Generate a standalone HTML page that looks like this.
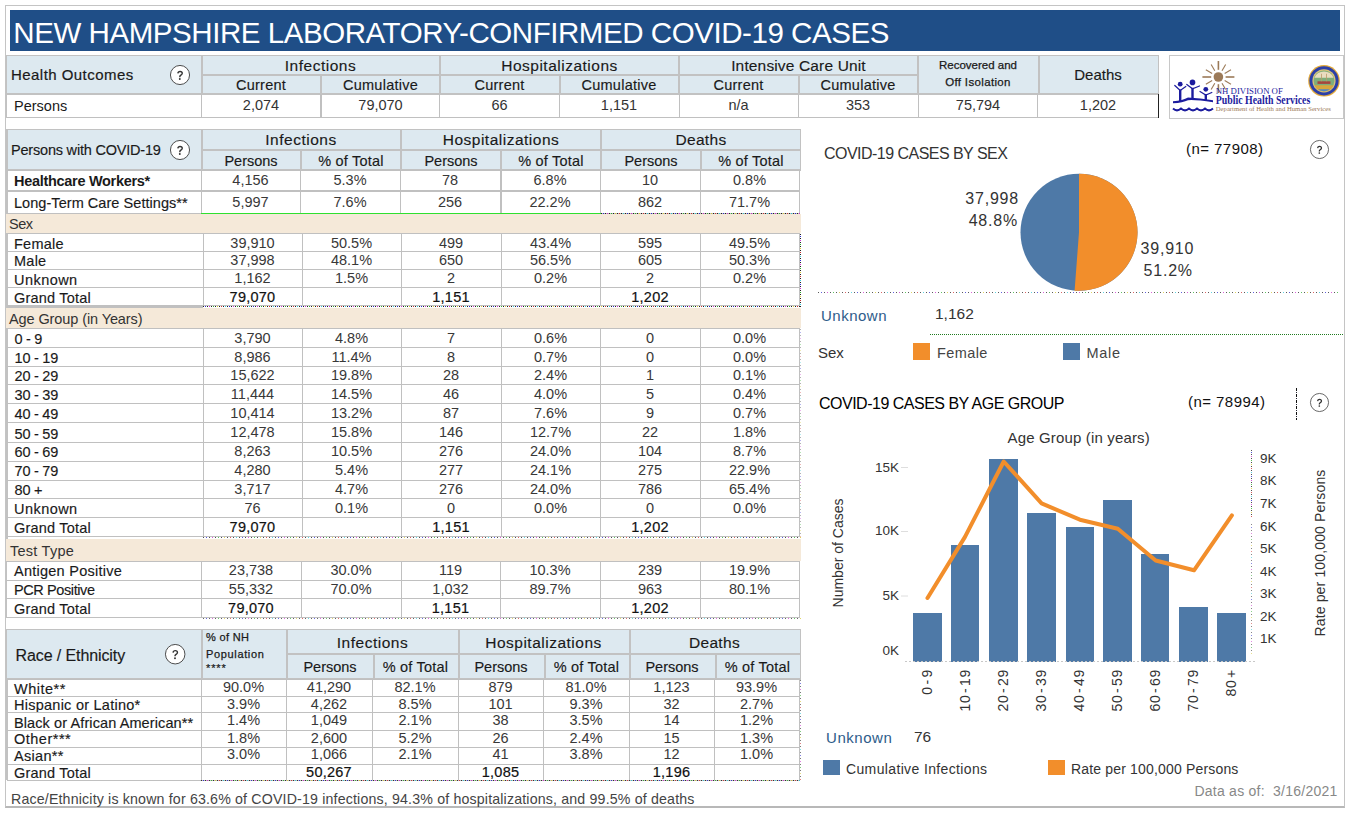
<!DOCTYPE html>
<html><head><meta charset="utf-8"><title>NH COVID-19</title>
<style>
html,body{margin:0;padding:0;background:#fff;}
body{width:1350px;height:813px;position:relative;overflow:hidden;font-family:"Liberation Sans",sans-serif;}
.a{position:absolute;}
.t{position:absolute;display:flex;align-items:center;white-space:nowrap;line-height:1;}
</style></head><body>
<div class="a" style="left:5px;top:5px;width:1340px;height:803px;border:1px solid #c4c4c4;border-bottom:2px solid #b8b8b8;box-sizing:border-box;"></div>
<div class="a" style="left:10px;top:10px;width:1330px;height:41px;background:#1f4e87;"></div>
<div class="t" style="left:13.3px;top:10px;width:1000px;height:41px;justify-content:flex-start;font-size:29.5px;letter-spacing:-0.44px;color:#fff;padding-top:4px;box-sizing:border-box" id="title">NEW HAMPSHIRE LABORATORY-CONFIRMED COVID-19 CASES</div>
<div class="a" style="left:7px;top:55px;width:1152px;height:39px;background:#dde9f0;"></div>
<div class="a" style="left:7px;top:55px;width:1152px;height:1px;background:#c2c2c2;"></div>
<div class="a" style="left:7px;top:93px;width:1152px;height:2px;background:#c2c2c2;"></div>
<div class="a" style="left:6px;top:55px;width:1px;height:63px;background:#c2c2c2;"></div>
<div class="a" style="left:202px;top:74px;width:716px;height:2px;background:#c2c2c2;"></div>
<div class="a" style="left:201px;top:55px;width:2px;height:39px;background:#c2c2c2;"></div>
<div class="a" style="left:320px;top:75px;width:2px;height:19px;background:#c2c2c2;"></div>
<div class="a" style="left:439px;top:55px;width:2px;height:39px;background:#c2c2c2;"></div>
<div class="a" style="left:559px;top:75px;width:2px;height:19px;background:#c2c2c2;"></div>
<div class="a" style="left:678px;top:55px;width:2px;height:39px;background:#c2c2c2;"></div>
<div class="a" style="left:798px;top:75px;width:2px;height:19px;background:#c2c2c2;"></div>
<div class="a" style="left:917px;top:55px;width:2px;height:39px;background:#c2c2c2;"></div>
<div class="a" style="left:1038px;top:55px;width:2px;height:39px;background:#c2c2c2;"></div>
<div class="a" style="left:1158px;top:55px;width:1px;height:39px;background:#c2c2c2;"></div>
<div class="t" style="left:201px;top:56px;width:239px;height:19px;justify-content:center;font-size:15.5px;color:#1a1a1a;letter-spacing:0.5px;-webkit-text-stroke:0.15px #1a1a1a;">Infections</div>
<div class="t" style="left:201px;top:76px;width:120px;height:18px;justify-content:center;font-size:14.5px;color:#1a1a1a;letter-spacing:0.25px;-webkit-text-stroke:0.15px #1a1a1a;">Current</div>
<div class="t" style="left:321px;top:76px;width:119px;height:18px;justify-content:center;font-size:14.5px;color:#1a1a1a;letter-spacing:0.25px;-webkit-text-stroke:0.15px #1a1a1a;">Cumulative</div>
<div class="t" style="left:440px;top:56px;width:239px;height:19px;justify-content:center;font-size:15.5px;color:#1a1a1a;letter-spacing:0.5px;-webkit-text-stroke:0.15px #1a1a1a;">Hospitalizations</div>
<div class="t" style="left:440px;top:76px;width:119px;height:18px;justify-content:center;font-size:14.5px;color:#1a1a1a;letter-spacing:0.25px;-webkit-text-stroke:0.15px #1a1a1a;">Current</div>
<div class="t" style="left:559px;top:76px;width:120px;height:18px;justify-content:center;font-size:14.5px;color:#1a1a1a;letter-spacing:0.25px;-webkit-text-stroke:0.15px #1a1a1a;">Cumulative</div>
<div class="t" style="left:679px;top:56px;width:239px;height:19px;justify-content:center;font-size:15.5px;color:#1a1a1a;letter-spacing:0.15px;-webkit-text-stroke:0.15px #1a1a1a;">Intensive Care Unit</div>
<div class="t" style="left:679px;top:76px;width:119px;height:18px;justify-content:center;font-size:14.5px;color:#1a1a1a;letter-spacing:0.25px;-webkit-text-stroke:0.15px #1a1a1a;">Current</div>
<div class="t" style="left:798px;top:76px;width:120px;height:18px;justify-content:center;font-size:14.5px;color:#1a1a1a;letter-spacing:0.25px;-webkit-text-stroke:0.15px #1a1a1a;">Cumulative</div>
<div class="t" style="left:918px;top:56px;width:120px;height:19px;justify-content:center;font-size:11.5px;color:#1a1a1a;-webkit-text-stroke:0.25px #1a1a1a;">Recovered and</div>
<div class="t" style="left:918px;top:73px;width:120px;height:19px;justify-content:center;font-size:11.5px;color:#1a1a1a;letter-spacing:0.35px;-webkit-text-stroke:0.25px #1a1a1a;">Off Isolation</div>
<div class="t" style="left:1038px;top:55px;width:120px;height:38px;justify-content:center;font-size:15px;color:#1a1a1a;-webkit-text-stroke:0.15px #1a1a1a;">Deaths</div>
<div class="t" style="left:11px;top:55px;width:150px;height:38px;justify-content:flex-start;font-size:15px;color:#1a1a1a;letter-spacing:0.45px;-webkit-text-stroke:0.2px #1a1a1a;">Health Outcomes</div>
<svg class="a" style="left:167.9px;top:62.900000000000006px" width="24" height="24" viewBox="-12 -12 24 24"><circle cx="0" cy="0" r="9.55" fill="#fff" stroke="#444" stroke-width="0.95"/><g transform="scale(1.0)"><path transform="scale(0.94)" d="M-2.3,-1.7 C-2.1,-3.4 -0.7,-3.8 0.1,-3.8 C1.7,-3.8 2.4,-2.7 2.4,-1.8 C2.4,-0.4 1.1,0 0.3,0.7 C-0.2,1.1 -0.2,1.6 -0.2,2.3" fill="none" stroke="#333" stroke-width="1.5"/><circle cx="-0.2" cy="4" r="0.95" fill="#333"/></g></svg>
<div class="a" style="left:7px;top:117px;width:1152px;height:1px;background:#c0c0c0;"></div>
<div class="a" style="left:201px;top:94px;width:1px;height:24px;background:#c0c0c0;"></div>
<div class="a" style="left:320px;top:94px;width:1px;height:24px;background:#c0c0c0;"></div>
<div class="a" style="left:321px;top:94px;width:1px;height:24px;background:#c0c0c0;"></div>
<div class="a" style="left:439px;top:94px;width:1px;height:24px;background:#c0c0c0;"></div>
<div class="a" style="left:559px;top:94px;width:1px;height:24px;background:#c0c0c0;"></div>
<div class="a" style="left:679px;top:94px;width:1px;height:24px;background:#c0c0c0;"></div>
<div class="a" style="left:798px;top:94px;width:1px;height:24px;background:#c0c0c0;"></div>
<div class="a" style="left:918px;top:94px;width:1px;height:24px;background:#c0c0c0;"></div>
<div class="a" style="left:1037px;top:94px;width:1px;height:24px;background:#c0c0c0;"></div>
<div class="a" style="left:1158px;top:94px;width:1px;height:24px;background:#222;"></div>
<div class="t" style="left:14px;top:95px;width:150px;height:22px;justify-content:flex-start;font-size:14.5px;color:#1a1a1a;">Persons</div>
<div class="t" style="left:201px;top:94px;width:120px;height:22px;justify-content:center;font-size:14.5px;color:#333;">2,074</div>
<div class="t" style="left:321px;top:94px;width:119px;height:22px;justify-content:center;font-size:14.5px;color:#333;">79,070</div>
<div class="t" style="left:440px;top:94px;width:119px;height:22px;justify-content:center;font-size:14.5px;color:#333;">66</div>
<div class="t" style="left:559px;top:94px;width:120px;height:22px;justify-content:center;font-size:14.5px;color:#333;">1,151</div>
<div class="t" style="left:679px;top:94px;width:119px;height:22px;justify-content:center;font-size:14.5px;color:#333;">n/a</div>
<div class="t" style="left:798px;top:94px;width:120px;height:22px;justify-content:center;font-size:14.5px;color:#333;">353</div>
<div class="t" style="left:918px;top:94px;width:120px;height:22px;justify-content:center;font-size:14.5px;color:#333;">75,794</div>
<div class="t" style="left:1038px;top:94px;width:120px;height:22px;justify-content:center;font-size:14.5px;color:#333;">1,202</div>
<div class="a" style="left:1169px;top:55px;width:175px;height:64px;background:#fff;border:1px solid #c8c8c8;box-sizing:border-box;"></div>
<svg class="a" style="left:0;top:0" width="1350" height="813"><circle cx="1218.4" cy="77" r="4.8" fill="#9c7a58"/><line x1="1225.60" y1="77.00" x2="1234.40" y2="77.00" stroke="#9c7a58" stroke-width="1.6"/><line x1="1224.64" y1="80.60" x2="1230.96" y2="84.25" stroke="#9c7a58" stroke-width="1.1"/><line x1="1222.00" y1="83.24" x2="1225.65" y2="89.56" stroke="#9c7a58" stroke-width="1.1"/><line x1="1218.40" y1="84.20" x2="1218.40" y2="93.00" stroke="#9c7a58" stroke-width="1.6"/><line x1="1214.80" y1="83.24" x2="1211.15" y2="89.56" stroke="#9c7a58" stroke-width="1.1"/><line x1="1212.16" y1="80.60" x2="1205.84" y2="84.25" stroke="#9c7a58" stroke-width="1.1"/><line x1="1211.20" y1="77.00" x2="1202.40" y2="77.00" stroke="#9c7a58" stroke-width="1.6"/><line x1="1212.16" y1="73.40" x2="1205.84" y2="69.75" stroke="#9c7a58" stroke-width="1.1"/><line x1="1214.80" y1="70.76" x2="1211.15" y2="64.44" stroke="#9c7a58" stroke-width="1.1"/><line x1="1218.40" y1="69.80" x2="1218.40" y2="61.00" stroke="#9c7a58" stroke-width="1.6"/><line x1="1222.00" y1="70.76" x2="1225.65" y2="64.44" stroke="#9c7a58" stroke-width="1.1"/><line x1="1224.64" y1="73.40" x2="1230.96" y2="69.75" stroke="#9c7a58" stroke-width="1.1"/><circle cx="1180.2" cy="84.2" r="2.4" fill="#1c1c9e"/><path d="M1174.8,85.5 L1180.2,90.5 L1185.8,86.5" fill="none" stroke="#1c1c9e" stroke-width="1.25" stroke-linecap="round"/><path d="M1180.2,89.5 L1180.2,101" stroke="#1c1c9e" stroke-width="2.4" fill="none"/><circle cx="1192.5" cy="82.4" r="2.8" fill="#1c1c9e"/><path d="M1186.8,84.5 L1192.5,88.8 L1199.5,86" fill="none" stroke="#1c1c9e" stroke-width="1.25" stroke-linecap="round"/><path d="M1192.5,87.8 L1192.5,98.5" stroke="#1c1c9e" stroke-width="2.4" fill="none"/><circle cx="1205.8" cy="89.3" r="2.4" fill="#1c1c9e"/><path d="M1200,91.5 L1205.8,95 L1211.8,92.5" fill="none" stroke="#1c1c9e" stroke-width="1.25" stroke-linecap="round"/><path d="M1205.8,94 L1205.8,100.5" stroke="#1c1c9e" stroke-width="2.4" fill="none"/><path d="M1173,103.3 L1173,101.3 Q1183,100.6 1188,97.6 Q1200,98 1213,100.3 L1213,102.3 Q1196,99.6 1188,100.2 Q1183,102.6 1173,103.3 Z" fill="#1c1c9e"/><path d="M1173,108.6 Q1177,112.2 1181,108.6 Q1185,112.2 1189,108.6 Q1193,112.2 1197,108.6 Q1201,112.2 1205,108.6 Q1209,112.2 1213,108.6" fill="none" stroke="#1c1c9e" stroke-width="2"/><text x="1215.8" y="94" font-family="Liberation Serif, serif" font-size="7.6" fill="#1c1c9e" textLength="67" lengthAdjust="spacingAndGlyphs">NH DIVISION OF</text><text x="1215.8" y="103.6" font-family="Liberation Serif, serif" font-size="11.5" font-weight="bold" fill="#1c1c9e" textLength="94.5" lengthAdjust="spacingAndGlyphs">Public Health Services</text><text x="1215.8" y="110.8" font-family="Liberation Serif, serif" font-size="5.8" fill="#9c7a58" textLength="115" lengthAdjust="spacingAndGlyphs">Department of Health and Human Services</text><circle cx="1324" cy="80.8" r="15.8" fill="#e2a93a"/><circle cx="1324" cy="80.8" r="14.6" fill="#2b3fa8"/><circle cx="1324" cy="80.8" r="11.6" fill="#d9c27a"/><circle cx="1324" cy="80.8" r="10.4" fill="#7fae7a"/><path d="M1314.4,77.8 A10.4,10.4 0 0 1 1333.6,77.8 Z" fill="#e9dcc0"/><rect x="1317.5" y="81.3" width="13" height="2.6" fill="#a8453c"/><path d="M1314.5,85.3 A10.4,10.4 0 0 0 1333.5,85.3 Z" fill="#d8a63c"/><path d="M1318,89.2 A10.4,10.4 0 0 0 1330,89.2 Z" fill="#4f86c6"/><line x1="1321.5" y1="73.8" x2="1321.5" y2="81.3" stroke="#b89a6a" stroke-width="0.8"/><line x1="1326.5" y1="73.8" x2="1326.5" y2="81.3" stroke="#b89a6a" stroke-width="0.8"/></svg>
<div class="a" style="left:7px;top:129px;width:794px;height:41px;background:#dde9f0;"></div>
<div class="a" style="left:6px;top:129px;width:795px;height:1px;background:#c2c2c2;"></div>
<div class="a" style="left:7px;top:169px;width:794px;height:2px;background:#c2c2c2;"></div>
<div class="a" style="left:202px;top:149px;width:599px;height:2px;background:#c2c2c2;"></div>
<div class="a" style="left:6px;top:129px;width:2px;height:432px;background:#c2c2c2;"></div>
<div class="a" style="left:6px;top:561px;width:1px;height:57px;background:#c2c2c2;"></div>
<div class="a" style="left:6px;top:629px;width:2px;height:151px;background:#c2c2c2;"></div>
<div class="a" style="left:201px;top:129px;width:2px;height:41px;background:#c2c2c2;"></div>
<div class="a" style="left:300px;top:150px;width:2px;height:20px;background:#c2c2c2;"></div>
<div class="a" style="left:400px;top:129px;width:2px;height:41px;background:#c2c2c2;"></div>
<div class="a" style="left:500px;top:150px;width:2px;height:20px;background:#c2c2c2;"></div>
<div class="a" style="left:600px;top:129px;width:2px;height:41px;background:#c2c2c2;"></div>
<div class="a" style="left:700px;top:150px;width:2px;height:20px;background:#c2c2c2;"></div>
<div class="a" style="left:800px;top:129px;width:1px;height:41px;background:#c2c2c2;"></div>
<div class="t" style="left:201px;top:130px;width:200px;height:20px;justify-content:center;font-size:15.5px;color:#1a1a1a;letter-spacing:0.5px;-webkit-text-stroke:0.15px #1a1a1a;">Infections</div>
<div class="t" style="left:201px;top:152px;width:100px;height:19px;justify-content:center;font-size:14.5px;color:#1a1a1a;-webkit-text-stroke:0.15px #1a1a1a;">Persons</div>
<div class="t" style="left:301px;top:152px;width:100px;height:19px;justify-content:center;font-size:14.5px;color:#1a1a1a;letter-spacing:0.2px;-webkit-text-stroke:0.15px #1a1a1a;">% of Total</div>
<div class="t" style="left:401px;top:130px;width:200px;height:20px;justify-content:center;font-size:15.5px;color:#1a1a1a;letter-spacing:0.5px;-webkit-text-stroke:0.15px #1a1a1a;">Hospitalizations</div>
<div class="t" style="left:401px;top:152px;width:100px;height:19px;justify-content:center;font-size:14.5px;color:#1a1a1a;-webkit-text-stroke:0.15px #1a1a1a;">Persons</div>
<div class="t" style="left:501px;top:152px;width:100px;height:19px;justify-content:center;font-size:14.5px;color:#1a1a1a;letter-spacing:0.2px;-webkit-text-stroke:0.15px #1a1a1a;">% of Total</div>
<div class="t" style="left:601px;top:130px;width:200px;height:20px;justify-content:center;font-size:15.5px;color:#1a1a1a;letter-spacing:0.3px;-webkit-text-stroke:0.15px #1a1a1a;">Deaths</div>
<div class="t" style="left:601px;top:152px;width:100px;height:19px;justify-content:center;font-size:14.5px;color:#1a1a1a;-webkit-text-stroke:0.15px #1a1a1a;">Persons</div>
<div class="t" style="left:701px;top:152px;width:100px;height:19px;justify-content:center;font-size:14.5px;color:#1a1a1a;letter-spacing:0.2px;-webkit-text-stroke:0.15px #1a1a1a;">% of Total</div>
<div class="t" style="left:11px;top:130px;width:180px;height:40px;justify-content:flex-start;font-size:14.5px;color:#1a1a1a;letter-spacing:-0.2px;-webkit-text-stroke:0.15px #1a1a1a;">Persons with COVID-19</div>
<svg class="a" style="left:168px;top:138px" width="24" height="24" viewBox="-12 -12 24 24"><circle cx="0" cy="0" r="9.55" fill="#fff" stroke="#444" stroke-width="0.95"/><g transform="scale(1.0)"><path transform="scale(0.94)" d="M-2.3,-1.7 C-2.1,-3.4 -0.7,-3.8 0.1,-3.8 C1.7,-3.8 2.4,-2.7 2.4,-1.8 C2.4,-0.4 1.1,0 0.3,0.7 C-0.2,1.1 -0.2,1.6 -0.2,2.3" fill="none" stroke="#333" stroke-width="1.5"/><circle cx="-0.2" cy="4" r="0.95" fill="#333"/></g></svg>
<div class="t" style="left:14px;top:171px;width:187px;height:20px;justify-content:flex-start;font-size:14.5px;color:#1a1a1a;font-weight:bold;letter-spacing:-0.3px;">Healthcare Workers*</div>
<div class="t" style="left:201px;top:170px;width:99px;height:20px;justify-content:center;font-size:14.5px;color:#383838;">4,156</div>
<div class="t" style="left:300px;top:170px;width:100px;height:20px;justify-content:center;font-size:14.5px;color:#383838;">5.3%</div>
<div class="t" style="left:400px;top:170px;width:100px;height:20px;justify-content:center;font-size:14.5px;color:#383838;">78</div>
<div class="t" style="left:500px;top:170px;width:100px;height:20px;justify-content:center;font-size:14.5px;color:#383838;">6.8%</div>
<div class="t" style="left:600px;top:170px;width:100px;height:20px;justify-content:center;font-size:14.5px;color:#383838;">10</div>
<div class="t" style="left:700px;top:170px;width:99px;height:20px;justify-content:center;font-size:14.5px;color:#383838;">0.8%</div>
<div class="a" style="left:7px;top:170px;width:792px;height:1px;background:#c0c0c0;"></div>
<div class="a" style="left:7px;top:190px;width:792px;height:1px;background:#c0c0c0;"></div>
<div class="a" style="left:201px;top:170px;width:1px;height:21px;background:#c0c0c0;"></div>
<div class="a" style="left:300px;top:170px;width:1px;height:21px;background:#c0c0c0;"></div>
<div class="a" style="left:400px;top:170px;width:1px;height:21px;background:#c0c0c0;"></div>
<div class="a" style="left:500px;top:170px;width:1px;height:21px;background:#c0c0c0;"></div>
<div class="a" style="left:600px;top:170px;width:1px;height:21px;background:#c0c0c0;"></div>
<div class="a" style="left:700px;top:170px;width:1px;height:21px;background:#c0c0c0;"></div>
<div class="a" style="left:799px;top:170px;width:1px;height:21px;background:#c0c0c0;"></div>
<div class="a" style="left:7px;top:191px;width:793px;height:1px;background:#c0c0c0;"></div>
<div class="a" style="left:501px;top:170px;width:1px;height:43px;background:#c0c0c0;"></div>
<div class="t" style="left:14px;top:192px;width:187px;height:22px;justify-content:flex-start;font-size:14.5px;color:#1a1a1a;letter-spacing:0.05px;-webkit-text-stroke:0.15px #1a1a1a;">Long-Term Care Settings**</div>
<div class="t" style="left:201px;top:191px;width:99px;height:22px;justify-content:center;font-size:14.5px;color:#383838;">5,997</div>
<div class="t" style="left:300px;top:191px;width:100px;height:22px;justify-content:center;font-size:14.5px;color:#383838;">7.6%</div>
<div class="t" style="left:400px;top:191px;width:100px;height:22px;justify-content:center;font-size:14.5px;color:#383838;">256</div>
<div class="t" style="left:500px;top:191px;width:100px;height:22px;justify-content:center;font-size:14.5px;color:#383838;">22.2%</div>
<div class="t" style="left:600px;top:191px;width:100px;height:22px;justify-content:center;font-size:14.5px;color:#383838;">862</div>
<div class="t" style="left:700px;top:191px;width:99px;height:22px;justify-content:center;font-size:14.5px;color:#383838;">71.7%</div>
<div class="a" style="left:7px;top:191px;width:792px;height:1px;background:#c0c0c0;"></div>
<div class="a" style="left:7px;top:213px;width:792px;height:1px;background:#c0c0c0;"></div>
<div class="a" style="left:201px;top:191px;width:1px;height:23px;background:#c0c0c0;"></div>
<div class="a" style="left:300px;top:191px;width:1px;height:23px;background:#c0c0c0;"></div>
<div class="a" style="left:400px;top:191px;width:1px;height:23px;background:#c0c0c0;"></div>
<div class="a" style="left:500px;top:191px;width:1px;height:23px;background:#c0c0c0;"></div>
<div class="a" style="left:600px;top:191px;width:1px;height:23px;background:#c0c0c0;"></div>
<div class="a" style="left:700px;top:191px;width:1px;height:23px;background:#c0c0c0;"></div>
<div class="a" style="left:799px;top:191px;width:1px;height:23px;background:#c0c0c0;"></div>
<div class="a" style="left:7px;top:190px;width:793px;height:2px;background:#c0c0c0;"></div>
<div class="a" style="left:201px;top:213px;width:400px;height:1px;background:#2fe02f;"></div>
<div class="a" style="left:6px;top:214px;width:795px;height:19px;background:#f5e9d9;"></div>
<div class="t" style="left:9px;top:214px;width:200px;height:20px;justify-content:flex-start;font-size:14.5px;color:#333;letter-spacing:-0.5px;">Sex</div>
<div class="t" style="left:14px;top:235px;width:189px;height:18px;justify-content:flex-start;font-size:14.5px;color:#1a1a1a;letter-spacing:0.25px;-webkit-text-stroke:0.15px #1a1a1a;">Female</div>
<div class="t" style="left:203px;top:234px;width:99px;height:18px;justify-content:center;font-size:14.5px;color:#383838;">39,910</div>
<div class="t" style="left:302px;top:234px;width:99px;height:18px;justify-content:center;font-size:14.5px;color:#383838;">50.5%</div>
<div class="t" style="left:401px;top:234px;width:100px;height:18px;justify-content:center;font-size:14.5px;color:#383838;">499</div>
<div class="t" style="left:501px;top:234px;width:99px;height:18px;justify-content:center;font-size:14.5px;color:#383838;">43.4%</div>
<div class="t" style="left:600px;top:234px;width:100px;height:18px;justify-content:center;font-size:14.5px;color:#383838;">595</div>
<div class="t" style="left:700px;top:234px;width:99px;height:18px;justify-content:center;font-size:14.5px;color:#383838;">49.5%</div>
<div class="t" style="left:14px;top:252px;width:189px;height:18px;justify-content:flex-start;font-size:14.5px;color:#1a1a1a;letter-spacing:0.25px;-webkit-text-stroke:0.15px #1a1a1a;">Male</div>
<div class="t" style="left:203px;top:251px;width:99px;height:18px;justify-content:center;font-size:14.5px;color:#383838;">37,998</div>
<div class="t" style="left:302px;top:251px;width:99px;height:18px;justify-content:center;font-size:14.5px;color:#383838;">48.1%</div>
<div class="t" style="left:401px;top:251px;width:100px;height:18px;justify-content:center;font-size:14.5px;color:#383838;">650</div>
<div class="t" style="left:501px;top:251px;width:99px;height:18px;justify-content:center;font-size:14.5px;color:#383838;">56.5%</div>
<div class="t" style="left:600px;top:251px;width:100px;height:18px;justify-content:center;font-size:14.5px;color:#383838;">605</div>
<div class="t" style="left:700px;top:251px;width:99px;height:18px;justify-content:center;font-size:14.5px;color:#383838;">50.3%</div>
<div class="t" style="left:14px;top:271px;width:189px;height:18px;justify-content:flex-start;font-size:14.5px;color:#1a1a1a;letter-spacing:0.45px;-webkit-text-stroke:0.15px #1a1a1a;">Unknown</div>
<div class="t" style="left:203px;top:269px;width:99px;height:18px;justify-content:center;font-size:14.5px;color:#383838;">1,162</div>
<div class="t" style="left:302px;top:269px;width:99px;height:18px;justify-content:center;font-size:14.5px;color:#383838;">1.5%</div>
<div class="t" style="left:401px;top:269px;width:100px;height:18px;justify-content:center;font-size:14.5px;color:#383838;">2</div>
<div class="t" style="left:501px;top:269px;width:99px;height:18px;justify-content:center;font-size:14.5px;color:#383838;">0.2%</div>
<div class="t" style="left:600px;top:269px;width:100px;height:18px;justify-content:center;font-size:14.5px;color:#383838;">2</div>
<div class="t" style="left:700px;top:269px;width:99px;height:18px;justify-content:center;font-size:14.5px;color:#383838;">0.2%</div>
<div class="t" style="left:14px;top:289px;width:189px;height:18px;justify-content:flex-start;font-size:14.5px;color:#1a1a1a;letter-spacing:0.2px;-webkit-text-stroke:0.15px #1a1a1a;">Grand Total</div>
<div class="t" style="left:203px;top:288px;width:99px;height:18px;justify-content:center;font-size:14.5px;color:#111;letter-spacing:0.25px;-webkit-text-stroke:0.2px #111;">79,070</div>
<div class="t" style="left:401px;top:288px;width:100px;height:18px;justify-content:center;font-size:14.5px;color:#111;letter-spacing:0.25px;-webkit-text-stroke:0.2px #111;">1,151</div>
<div class="t" style="left:600px;top:288px;width:100px;height:18px;justify-content:center;font-size:14.5px;color:#111;letter-spacing:0.25px;-webkit-text-stroke:0.2px #111;">1,202</div>
<div class="a" style="left:7px;top:233px;width:792px;height:1px;background:#c0c0c0;"></div>
<div class="a" style="left:7px;top:251px;width:792px;height:1px;background:#c0c0c0;"></div>
<div class="a" style="left:7px;top:269px;width:792px;height:1px;background:#c0c0c0;"></div>
<div class="a" style="left:7px;top:287px;width:792px;height:1px;background:#c0c0c0;"></div>
<div class="a" style="left:7px;top:305px;width:792px;height:1px;background:#c0c0c0;"></div>
<div class="a" style="left:203px;top:233px;width:1px;height:73px;background:#c0c0c0;"></div>
<div class="a" style="left:302px;top:233px;width:1px;height:73px;background:#c0c0c0;"></div>
<div class="a" style="left:401px;top:233px;width:1px;height:73px;background:#c0c0c0;"></div>
<div class="a" style="left:501px;top:233px;width:1px;height:73px;background:#c0c0c0;"></div>
<div class="a" style="left:600px;top:233px;width:1px;height:73px;background:#c0c0c0;"></div>
<div class="a" style="left:700px;top:233px;width:1px;height:73px;background:#c0c0c0;"></div>
<div class="a" style="left:799px;top:233px;width:1px;height:73px;background:#c0c0c0;"></div>
<div class="a" style="left:7px;top:306px;width:196px;height:2px;background:#c0c0c0;"></div>
<div class="a" style="left:601px;top:213px;width:200px;height:1px;background:repeating-linear-gradient(90deg,#222 0px 1px,transparent 1px 2px,#2b2bd6 2px 3px,transparent 3px 4px,#222 4px 5px,transparent 5px 6px,#d02bd0 6px 7px,transparent 7px 8px,#222 8px 9px,transparent 9px 10px,#2bb02b 10px 11px,transparent 11px 12px,#222 12px 13px,transparent 13px 14px,#d6c62b 14px 15px,transparent 15px 16px,#222 16px 17px,transparent 17px 18px,#d03030 18px 19px,transparent 19px 20px,#222 20px 21px,transparent 21px 22px,#2bc6d6 22px 23px,transparent 23px 24px);opacity:1.0"></div>
<div class="a" style="left:203px;top:306px;width:598px;height:1px;background:repeating-linear-gradient(90deg,#222 0px 1px,transparent 1px 2px,#2b2bd6 2px 3px,transparent 3px 4px,#222 4px 5px,transparent 5px 6px,#d02bd0 6px 7px,transparent 7px 8px,#222 8px 9px,transparent 9px 10px,#2bb02b 10px 11px,transparent 11px 12px,#222 12px 13px,transparent 13px 14px,#d6c62b 14px 15px,transparent 15px 16px,#222 16px 17px,transparent 17px 18px,#d03030 18px 19px,transparent 19px 20px,#222 20px 21px,transparent 21px 22px,#2bc6d6 22px 23px,transparent 23px 24px);opacity:1.0"></div>
<div class="a" style="left:800px;top:234px;width:1px;height:73px;background:repeating-linear-gradient(180deg,#222 0px 1px,transparent 1px 2px,#2b2bd6 2px 3px,transparent 3px 4px,#222 4px 5px,transparent 5px 6px,#d02bd0 6px 7px,transparent 7px 8px,#222 8px 9px,transparent 9px 10px,#2bb02b 10px 11px,transparent 11px 12px,#222 12px 13px,transparent 13px 14px,#d6c62b 14px 15px,transparent 15px 16px,#222 16px 17px,transparent 17px 18px,#d03030 18px 19px,transparent 19px 20px,#222 20px 21px,transparent 21px 22px,#2bc6d6 22px 23px,transparent 23px 24px);opacity:1.0"></div>
<div class="a" style="left:6px;top:308px;width:795px;height:20px;background:#f5e9d9;"></div>
<div class="t" style="left:9px;top:309px;width:300px;height:20px;justify-content:flex-start;font-size:14.5px;color:#333;letter-spacing:-0.1px;">Age Group (in Years)</div>
<div class="t" style="left:14.5px;top:330px;width:189px;height:19px;justify-content:flex-start;font-size:14.5px;color:#1a1a1a;letter-spacing:0.02px;-webkit-text-stroke:0.15px #1a1a1a;word-spacing:-0.7px;">0 - 9</div>
<div class="t" style="left:203px;top:329px;width:99px;height:19px;justify-content:center;font-size:14.5px;color:#383838;">3,790</div>
<div class="t" style="left:302px;top:329px;width:99px;height:19px;justify-content:center;font-size:14.5px;color:#383838;">4.8%</div>
<div class="t" style="left:401px;top:329px;width:100px;height:19px;justify-content:center;font-size:14.5px;color:#383838;">7</div>
<div class="t" style="left:501px;top:329px;width:99px;height:19px;justify-content:center;font-size:14.5px;color:#383838;">0.6%</div>
<div class="t" style="left:600px;top:329px;width:100px;height:19px;justify-content:center;font-size:14.5px;color:#383838;">0</div>
<div class="t" style="left:700px;top:329px;width:99px;height:19px;justify-content:center;font-size:14.5px;color:#383838;">0.0%</div>
<div class="t" style="left:14.5px;top:349px;width:189px;height:19px;justify-content:flex-start;font-size:14.5px;color:#1a1a1a;letter-spacing:0.02px;-webkit-text-stroke:0.15px #1a1a1a;word-spacing:-0.7px;">10 - 19</div>
<div class="t" style="left:203px;top:348px;width:99px;height:19px;justify-content:center;font-size:14.5px;color:#383838;">8,986</div>
<div class="t" style="left:302px;top:348px;width:99px;height:19px;justify-content:center;font-size:14.5px;color:#383838;">11.4%</div>
<div class="t" style="left:401px;top:348px;width:100px;height:19px;justify-content:center;font-size:14.5px;color:#383838;">8</div>
<div class="t" style="left:501px;top:348px;width:99px;height:19px;justify-content:center;font-size:14.5px;color:#383838;">0.7%</div>
<div class="t" style="left:600px;top:348px;width:100px;height:19px;justify-content:center;font-size:14.5px;color:#383838;">0</div>
<div class="t" style="left:700px;top:348px;width:99px;height:19px;justify-content:center;font-size:14.5px;color:#383838;">0.0%</div>
<div class="t" style="left:14.5px;top:367px;width:189px;height:18px;justify-content:flex-start;font-size:14.5px;color:#1a1a1a;letter-spacing:0.02px;-webkit-text-stroke:0.15px #1a1a1a;word-spacing:-0.7px;">20 - 29</div>
<div class="t" style="left:203px;top:366px;width:99px;height:18px;justify-content:center;font-size:14.5px;color:#383838;">15,622</div>
<div class="t" style="left:302px;top:366px;width:99px;height:18px;justify-content:center;font-size:14.5px;color:#383838;">19.8%</div>
<div class="t" style="left:401px;top:366px;width:100px;height:18px;justify-content:center;font-size:14.5px;color:#383838;">28</div>
<div class="t" style="left:501px;top:366px;width:99px;height:18px;justify-content:center;font-size:14.5px;color:#383838;">2.4%</div>
<div class="t" style="left:600px;top:366px;width:100px;height:18px;justify-content:center;font-size:14.5px;color:#383838;">1</div>
<div class="t" style="left:700px;top:366px;width:99px;height:18px;justify-content:center;font-size:14.5px;color:#383838;">0.1%</div>
<div class="t" style="left:14.5px;top:386px;width:189px;height:19px;justify-content:flex-start;font-size:14.5px;color:#1a1a1a;letter-spacing:0.02px;-webkit-text-stroke:0.15px #1a1a1a;word-spacing:-0.7px;">30 - 39</div>
<div class="t" style="left:203px;top:385px;width:99px;height:19px;justify-content:center;font-size:14.5px;color:#383838;">11,444</div>
<div class="t" style="left:302px;top:385px;width:99px;height:19px;justify-content:center;font-size:14.5px;color:#383838;">14.5%</div>
<div class="t" style="left:401px;top:385px;width:100px;height:19px;justify-content:center;font-size:14.5px;color:#383838;">46</div>
<div class="t" style="left:501px;top:385px;width:99px;height:19px;justify-content:center;font-size:14.5px;color:#383838;">4.0%</div>
<div class="t" style="left:600px;top:385px;width:100px;height:19px;justify-content:center;font-size:14.5px;color:#383838;">5</div>
<div class="t" style="left:700px;top:385px;width:99px;height:19px;justify-content:center;font-size:14.5px;color:#383838;">0.4%</div>
<div class="t" style="left:14.5px;top:405px;width:189px;height:19px;justify-content:flex-start;font-size:14.5px;color:#1a1a1a;letter-spacing:0.02px;-webkit-text-stroke:0.15px #1a1a1a;word-spacing:-0.7px;">40 - 49</div>
<div class="t" style="left:203px;top:404px;width:99px;height:19px;justify-content:center;font-size:14.5px;color:#383838;">10,414</div>
<div class="t" style="left:302px;top:404px;width:99px;height:19px;justify-content:center;font-size:14.5px;color:#383838;">13.2%</div>
<div class="t" style="left:401px;top:404px;width:100px;height:19px;justify-content:center;font-size:14.5px;color:#383838;">87</div>
<div class="t" style="left:501px;top:404px;width:99px;height:19px;justify-content:center;font-size:14.5px;color:#383838;">7.6%</div>
<div class="t" style="left:600px;top:404px;width:100px;height:19px;justify-content:center;font-size:14.5px;color:#383838;">9</div>
<div class="t" style="left:700px;top:404px;width:99px;height:19px;justify-content:center;font-size:14.5px;color:#383838;">0.7%</div>
<div class="t" style="left:14.5px;top:424px;width:189px;height:20px;justify-content:flex-start;font-size:14.5px;color:#1a1a1a;letter-spacing:0.02px;-webkit-text-stroke:0.15px #1a1a1a;word-spacing:-0.7px;">50 - 59</div>
<div class="t" style="left:203px;top:422px;width:99px;height:20px;justify-content:center;font-size:14.5px;color:#383838;">12,478</div>
<div class="t" style="left:302px;top:422px;width:99px;height:20px;justify-content:center;font-size:14.5px;color:#383838;">15.8%</div>
<div class="t" style="left:401px;top:422px;width:100px;height:20px;justify-content:center;font-size:14.5px;color:#383838;">146</div>
<div class="t" style="left:501px;top:422px;width:99px;height:20px;justify-content:center;font-size:14.5px;color:#383838;">12.7%</div>
<div class="t" style="left:600px;top:422px;width:100px;height:20px;justify-content:center;font-size:14.5px;color:#383838;">22</div>
<div class="t" style="left:700px;top:422px;width:99px;height:20px;justify-content:center;font-size:14.5px;color:#383838;">1.8%</div>
<div class="t" style="left:14.5px;top:443px;width:189px;height:19px;justify-content:flex-start;font-size:14.5px;color:#1a1a1a;letter-spacing:0.02px;-webkit-text-stroke:0.15px #1a1a1a;word-spacing:-0.7px;">60 - 69</div>
<div class="t" style="left:203px;top:442px;width:99px;height:19px;justify-content:center;font-size:14.5px;color:#383838;">8,263</div>
<div class="t" style="left:302px;top:442px;width:99px;height:19px;justify-content:center;font-size:14.5px;color:#383838;">10.5%</div>
<div class="t" style="left:401px;top:442px;width:100px;height:19px;justify-content:center;font-size:14.5px;color:#383838;">276</div>
<div class="t" style="left:501px;top:442px;width:99px;height:19px;justify-content:center;font-size:14.5px;color:#383838;">24.0%</div>
<div class="t" style="left:600px;top:442px;width:100px;height:19px;justify-content:center;font-size:14.5px;color:#383838;">104</div>
<div class="t" style="left:700px;top:442px;width:99px;height:19px;justify-content:center;font-size:14.5px;color:#383838;">8.7%</div>
<div class="t" style="left:14.5px;top:462px;width:189px;height:19px;justify-content:flex-start;font-size:14.5px;color:#1a1a1a;letter-spacing:0.02px;-webkit-text-stroke:0.15px #1a1a1a;word-spacing:-0.7px;">70 - 79</div>
<div class="t" style="left:203px;top:461px;width:99px;height:19px;justify-content:center;font-size:14.5px;color:#383838;">4,280</div>
<div class="t" style="left:302px;top:461px;width:99px;height:19px;justify-content:center;font-size:14.5px;color:#383838;">5.4%</div>
<div class="t" style="left:401px;top:461px;width:100px;height:19px;justify-content:center;font-size:14.5px;color:#383838;">277</div>
<div class="t" style="left:501px;top:461px;width:99px;height:19px;justify-content:center;font-size:14.5px;color:#383838;">24.1%</div>
<div class="t" style="left:600px;top:461px;width:100px;height:19px;justify-content:center;font-size:14.5px;color:#383838;">275</div>
<div class="t" style="left:700px;top:461px;width:99px;height:19px;justify-content:center;font-size:14.5px;color:#383838;">22.9%</div>
<div class="t" style="left:14.5px;top:481px;width:189px;height:18px;justify-content:flex-start;font-size:14.5px;color:#1a1a1a;letter-spacing:0.02px;-webkit-text-stroke:0.15px #1a1a1a;word-spacing:-0.7px;">80 +</div>
<div class="t" style="left:203px;top:480px;width:99px;height:18px;justify-content:center;font-size:14.5px;color:#383838;">3,717</div>
<div class="t" style="left:302px;top:480px;width:99px;height:18px;justify-content:center;font-size:14.5px;color:#383838;">4.7%</div>
<div class="t" style="left:401px;top:480px;width:100px;height:18px;justify-content:center;font-size:14.5px;color:#383838;">276</div>
<div class="t" style="left:501px;top:480px;width:99px;height:18px;justify-content:center;font-size:14.5px;color:#383838;">24.0%</div>
<div class="t" style="left:600px;top:480px;width:100px;height:18px;justify-content:center;font-size:14.5px;color:#383838;">786</div>
<div class="t" style="left:700px;top:480px;width:99px;height:18px;justify-content:center;font-size:14.5px;color:#383838;">65.4%</div>
<div class="t" style="left:14px;top:500px;width:189px;height:19px;justify-content:flex-start;font-size:14.5px;color:#1a1a1a;letter-spacing:0.45px;-webkit-text-stroke:0.15px #1a1a1a;">Unknown</div>
<div class="t" style="left:203px;top:499px;width:99px;height:19px;justify-content:center;font-size:14.5px;color:#383838;">76</div>
<div class="t" style="left:302px;top:499px;width:99px;height:19px;justify-content:center;font-size:14.5px;color:#383838;">0.1%</div>
<div class="t" style="left:401px;top:499px;width:100px;height:19px;justify-content:center;font-size:14.5px;color:#383838;">0</div>
<div class="t" style="left:501px;top:499px;width:99px;height:19px;justify-content:center;font-size:14.5px;color:#383838;">0.0%</div>
<div class="t" style="left:600px;top:499px;width:100px;height:19px;justify-content:center;font-size:14.5px;color:#383838;">0</div>
<div class="t" style="left:700px;top:499px;width:99px;height:19px;justify-content:center;font-size:14.5px;color:#383838;">0.0%</div>
<div class="t" style="left:14px;top:519px;width:189px;height:19px;justify-content:flex-start;font-size:14.5px;color:#1a1a1a;letter-spacing:0.2px;-webkit-text-stroke:0.15px #1a1a1a;">Grand Total</div>
<div class="t" style="left:203px;top:518px;width:99px;height:19px;justify-content:center;font-size:14.5px;color:#111;letter-spacing:0.25px;-webkit-text-stroke:0.2px #111;">79,070</div>
<div class="t" style="left:401px;top:518px;width:100px;height:19px;justify-content:center;font-size:14.5px;color:#111;letter-spacing:0.25px;-webkit-text-stroke:0.2px #111;">1,151</div>
<div class="t" style="left:600px;top:518px;width:100px;height:19px;justify-content:center;font-size:14.5px;color:#111;letter-spacing:0.25px;-webkit-text-stroke:0.2px #111;">1,202</div>
<div class="a" style="left:7px;top:328px;width:792px;height:1px;background:#c0c0c0;"></div>
<div class="a" style="left:7px;top:347px;width:792px;height:1px;background:#c0c0c0;"></div>
<div class="a" style="left:7px;top:366px;width:792px;height:1px;background:#c0c0c0;"></div>
<div class="a" style="left:7px;top:384px;width:792px;height:1px;background:#c0c0c0;"></div>
<div class="a" style="left:7px;top:403px;width:792px;height:1px;background:#c0c0c0;"></div>
<div class="a" style="left:7px;top:422px;width:792px;height:1px;background:#c0c0c0;"></div>
<div class="a" style="left:7px;top:442px;width:792px;height:1px;background:#c0c0c0;"></div>
<div class="a" style="left:7px;top:461px;width:792px;height:1px;background:#c0c0c0;"></div>
<div class="a" style="left:7px;top:480px;width:792px;height:1px;background:#c0c0c0;"></div>
<div class="a" style="left:7px;top:498px;width:792px;height:1px;background:#c0c0c0;"></div>
<div class="a" style="left:7px;top:517px;width:792px;height:1px;background:#c0c0c0;"></div>
<div class="a" style="left:7px;top:536px;width:792px;height:1px;background:#c0c0c0;"></div>
<div class="a" style="left:203px;top:328px;width:1px;height:209px;background:#c0c0c0;"></div>
<div class="a" style="left:302px;top:328px;width:1px;height:209px;background:#c0c0c0;"></div>
<div class="a" style="left:401px;top:328px;width:1px;height:209px;background:#c0c0c0;"></div>
<div class="a" style="left:501px;top:328px;width:1px;height:209px;background:#c0c0c0;"></div>
<div class="a" style="left:600px;top:328px;width:1px;height:209px;background:#c0c0c0;"></div>
<div class="a" style="left:700px;top:328px;width:1px;height:209px;background:#c0c0c0;"></div>
<div class="a" style="left:799px;top:328px;width:1px;height:209px;background:#c0c0c0;"></div>
<div class="a" style="left:203px;top:537px;width:598px;height:1px;background:repeating-linear-gradient(90deg,#222 0px 1px,transparent 1px 3px,#2b2bd6 3px 4px,transparent 4px 6px,#222 6px 7px,transparent 7px 9px,#d02bd0 9px 10px,transparent 10px 12px,#222 12px 13px,transparent 13px 15px,#2bb02b 15px 16px,transparent 16px 18px,#222 18px 19px,transparent 19px 21px,#d6c62b 21px 22px,transparent 22px 24px,#222 24px 25px,transparent 25px 27px,#d03030 27px 28px,transparent 28px 30px,#222 30px 31px,transparent 31px 33px,#2bc6d6 33px 34px,transparent 34px 36px);opacity:0.8"></div>
<div class="a" style="left:800px;top:329px;width:1px;height:208px;background:repeating-linear-gradient(180deg,#222 0px 1px,transparent 1px 3px,#2b2bd6 3px 4px,transparent 4px 6px,#222 6px 7px,transparent 7px 9px,#d02bd0 9px 10px,transparent 10px 12px,#222 12px 13px,transparent 13px 15px,#2bb02b 15px 16px,transparent 16px 18px,#222 18px 19px,transparent 19px 21px,#d6c62b 21px 22px,transparent 22px 24px,#222 24px 25px,transparent 25px 27px,#d03030 27px 28px,transparent 28px 30px,#222 30px 31px,transparent 31px 33px,#2bc6d6 33px 34px,transparent 34px 36px);opacity:0.35"></div>
<div class="a" style="left:6px;top:539px;width:795px;height:22px;background:#f5e9d9;"></div>
<div class="t" style="left:10px;top:541px;width:300px;height:21px;justify-content:flex-start;font-size:14.5px;color:#333;letter-spacing:0.25px;">Test Type</div>
<div class="t" style="left:14px;top:562px;width:187px;height:19px;justify-content:flex-start;font-size:14.5px;color:#1a1a1a;letter-spacing:0.25px;-webkit-text-stroke:0.15px #1a1a1a;">Antigen Positive</div>
<div class="t" style="left:201px;top:561px;width:100px;height:19px;justify-content:center;font-size:14.5px;color:#383838;">23,738</div>
<div class="t" style="left:301px;top:561px;width:100px;height:19px;justify-content:center;font-size:14.5px;color:#383838;">30.0%</div>
<div class="t" style="left:401px;top:561px;width:99px;height:19px;justify-content:center;font-size:14.5px;color:#383838;">119</div>
<div class="t" style="left:500px;top:561px;width:100px;height:19px;justify-content:center;font-size:14.5px;color:#383838;">10.3%</div>
<div class="t" style="left:600px;top:561px;width:100px;height:19px;justify-content:center;font-size:14.5px;color:#383838;">239</div>
<div class="t" style="left:700px;top:561px;width:99px;height:19px;justify-content:center;font-size:14.5px;color:#383838;">19.9%</div>
<div class="t" style="left:14px;top:581px;width:187px;height:18px;justify-content:flex-start;font-size:14.5px;color:#1a1a1a;letter-spacing:-0.4px;-webkit-text-stroke:0.15px #1a1a1a;">PCR Positive</div>
<div class="t" style="left:201px;top:580px;width:100px;height:18px;justify-content:center;font-size:14.5px;color:#383838;">55,332</div>
<div class="t" style="left:301px;top:580px;width:100px;height:18px;justify-content:center;font-size:14.5px;color:#383838;">70.0%</div>
<div class="t" style="left:401px;top:580px;width:99px;height:18px;justify-content:center;font-size:14.5px;color:#383838;">1,032</div>
<div class="t" style="left:500px;top:580px;width:100px;height:18px;justify-content:center;font-size:14.5px;color:#383838;">89.7%</div>
<div class="t" style="left:600px;top:580px;width:100px;height:18px;justify-content:center;font-size:14.5px;color:#383838;">963</div>
<div class="t" style="left:700px;top:580px;width:99px;height:18px;justify-content:center;font-size:14.5px;color:#383838;">80.1%</div>
<div class="t" style="left:14px;top:600px;width:187px;height:19px;justify-content:flex-start;font-size:14.5px;color:#1a1a1a;letter-spacing:0.2px;-webkit-text-stroke:0.15px #1a1a1a;">Grand Total</div>
<div class="t" style="left:201px;top:599px;width:100px;height:19px;justify-content:center;font-size:14.5px;color:#111;letter-spacing:0.25px;-webkit-text-stroke:0.2px #111;">79,070</div>
<div class="t" style="left:401px;top:599px;width:99px;height:19px;justify-content:center;font-size:14.5px;color:#111;letter-spacing:0.25px;-webkit-text-stroke:0.2px #111;">1,151</div>
<div class="t" style="left:600px;top:599px;width:100px;height:19px;justify-content:center;font-size:14.5px;color:#111;letter-spacing:0.25px;-webkit-text-stroke:0.2px #111;">1,202</div>
<div class="a" style="left:6px;top:561px;width:793px;height:1px;background:#c0c0c0;"></div>
<div class="a" style="left:6px;top:580px;width:793px;height:1px;background:#c0c0c0;"></div>
<div class="a" style="left:6px;top:598px;width:793px;height:1px;background:#c0c0c0;"></div>
<div class="a" style="left:6px;top:617px;width:793px;height:1px;background:#c0c0c0;"></div>
<div class="a" style="left:201px;top:561px;width:1px;height:57px;background:#c0c0c0;"></div>
<div class="a" style="left:301px;top:561px;width:1px;height:57px;background:#c0c0c0;"></div>
<div class="a" style="left:401px;top:561px;width:1px;height:57px;background:#c0c0c0;"></div>
<div class="a" style="left:500px;top:561px;width:1px;height:57px;background:#c0c0c0;"></div>
<div class="a" style="left:600px;top:561px;width:1px;height:57px;background:#c0c0c0;"></div>
<div class="a" style="left:700px;top:561px;width:1px;height:57px;background:#c0c0c0;"></div>
<div class="a" style="left:799px;top:561px;width:1px;height:57px;background:#c0c0c0;"></div>
<div class="a" style="left:203px;top:618px;width:598px;height:1px;background:repeating-linear-gradient(90deg,#222 0px 1px,transparent 1px 3px,#2b2bd6 3px 4px,transparent 4px 6px,#222 6px 7px,transparent 7px 9px,#d02bd0 9px 10px,transparent 10px 12px,#222 12px 13px,transparent 13px 15px,#2bb02b 15px 16px,transparent 16px 18px,#222 18px 19px,transparent 19px 21px,#d6c62b 21px 22px,transparent 22px 24px,#222 24px 25px,transparent 25px 27px,#d03030 27px 28px,transparent 28px 30px,#222 30px 31px,transparent 31px 33px,#2bc6d6 33px 34px,transparent 34px 36px);opacity:0.7"></div>
<div class="a" style="left:7px;top:629px;width:794px;height:50px;background:#dde9f0;"></div>
<div class="a" style="left:7px;top:629px;width:794px;height:1px;background:#c2c2c2;"></div>
<div class="a" style="left:7px;top:678px;width:794px;height:2px;background:#c2c2c2;"></div>
<div class="a" style="left:288px;top:653px;width:513px;height:2px;background:#c2c2c2;"></div>
<div class="a" style="left:201px;top:629px;width:2px;height:50px;background:#c2c2c2;"></div>
<div class="a" style="left:286px;top:629px;width:2px;height:50px;background:#c2c2c2;"></div>
<div class="a" style="left:373px;top:654px;width:2px;height:25px;background:#c2c2c2;"></div>
<div class="a" style="left:458px;top:629px;width:2px;height:50px;background:#c2c2c2;"></div>
<div class="a" style="left:544px;top:654px;width:2px;height:25px;background:#c2c2c2;"></div>
<div class="a" style="left:629px;top:629px;width:2px;height:50px;background:#c2c2c2;"></div>
<div class="a" style="left:715px;top:654px;width:2px;height:25px;background:#c2c2c2;"></div>
<div class="a" style="left:800px;top:629px;width:1px;height:50px;background:#c2c2c2;"></div>
<div class="t" style="left:15.5px;top:631px;width:180px;height:49px;justify-content:flex-start;font-size:16px;color:#1a1a1a;letter-spacing:-0.1px;-webkit-text-stroke:0.15px #1a1a1a;">Race / Ethnicity</div>
<svg class="a" style="left:162.5px;top:642.0999999999999px" width="24.4" height="24.4" viewBox="-12.2 -12.2 24.4 24.4"><circle cx="0" cy="0" r="9.75" fill="#fff" stroke="#444" stroke-width="0.95"/><g transform="scale(1.0)"><path transform="scale(0.94)" d="M-2.3,-1.7 C-2.1,-3.4 -0.7,-3.8 0.1,-3.8 C1.7,-3.8 2.4,-2.7 2.4,-1.8 C2.4,-0.4 1.1,0 0.3,0.7 C-0.2,1.1 -0.2,1.6 -0.2,2.3" fill="none" stroke="#333" stroke-width="1.5"/><circle cx="-0.2" cy="4" r="0.95" fill="#333"/></g></svg>
<div class="t" style="left:206px;top:629px;width:80px;height:16px;justify-content:flex-start;font-size:11px;color:#1a1a1a;letter-spacing:0.35px;-webkit-text-stroke:0.25px #1a1a1a;">% of NH</div>
<div class="t" style="left:206px;top:646px;width:80px;height:16px;justify-content:flex-start;font-size:11px;color:#1a1a1a;letter-spacing:0.65px;-webkit-text-stroke:0.25px #1a1a1a;">Population</div>
<div class="t" style="left:206px;top:661px;width:80px;height:14px;justify-content:flex-start;font-size:11px;color:#1a1a1a;letter-spacing:0.9px;-webkit-text-stroke:0.2px #1a1a1a;">****</div>
<div class="t" style="left:287px;top:631px;width:171px;height:23px;justify-content:center;font-size:15.5px;color:#1a1a1a;letter-spacing:0.5px;-webkit-text-stroke:0.15px #1a1a1a;">Infections</div>
<div class="t" style="left:287px;top:656px;width:86px;height:23px;justify-content:center;font-size:14.5px;color:#1a1a1a;-webkit-text-stroke:0.15px #1a1a1a;">Persons</div>
<div class="t" style="left:373px;top:656px;width:85px;height:23px;justify-content:center;font-size:14.5px;color:#1a1a1a;letter-spacing:0.2px;-webkit-text-stroke:0.15px #1a1a1a;">% of Total</div>
<div class="t" style="left:458px;top:631px;width:171px;height:23px;justify-content:center;font-size:15.5px;color:#1a1a1a;letter-spacing:0.5px;-webkit-text-stroke:0.15px #1a1a1a;">Hospitalizations</div>
<div class="t" style="left:458px;top:656px;width:86px;height:23px;justify-content:center;font-size:14.5px;color:#1a1a1a;-webkit-text-stroke:0.15px #1a1a1a;">Persons</div>
<div class="t" style="left:544px;top:656px;width:85px;height:23px;justify-content:center;font-size:14.5px;color:#1a1a1a;letter-spacing:0.2px;-webkit-text-stroke:0.15px #1a1a1a;">% of Total</div>
<div class="t" style="left:629px;top:631px;width:171px;height:23px;justify-content:center;font-size:15.5px;color:#1a1a1a;letter-spacing:0.3px;-webkit-text-stroke:0.15px #1a1a1a;">Deaths</div>
<div class="t" style="left:629px;top:656px;width:86px;height:23px;justify-content:center;font-size:14.5px;color:#1a1a1a;-webkit-text-stroke:0.15px #1a1a1a;">Persons</div>
<div class="t" style="left:715px;top:656px;width:85px;height:23px;justify-content:center;font-size:14.5px;color:#1a1a1a;letter-spacing:0.2px;-webkit-text-stroke:0.15px #1a1a1a;">% of Total</div>
<div class="t" style="left:14px;top:681px;width:187px;height:17px;justify-content:flex-start;font-size:14.5px;color:#1a1a1a;letter-spacing:0.5px;-webkit-text-stroke:0.15px #1a1a1a;">White**</div>
<div class="t" style="left:201px;top:679px;width:85px;height:17px;justify-content:center;font-size:14.5px;color:#383838;">90.0%</div>
<div class="t" style="left:286px;top:679px;width:86px;height:17px;justify-content:center;font-size:14.5px;color:#383838;">41,290</div>
<div class="t" style="left:372px;top:679px;width:86px;height:17px;justify-content:center;font-size:14.5px;color:#383838;">82.1%</div>
<div class="t" style="left:458px;top:679px;width:85px;height:17px;justify-content:center;font-size:14.5px;color:#383838;">879</div>
<div class="t" style="left:543px;top:679px;width:86px;height:17px;justify-content:center;font-size:14.5px;color:#383838;">81.0%</div>
<div class="t" style="left:629px;top:679px;width:85px;height:17px;justify-content:center;font-size:14.5px;color:#383838;">1,123</div>
<div class="t" style="left:714px;top:679px;width:85px;height:17px;justify-content:center;font-size:14.5px;color:#383838;">93.9%</div>
<div class="t" style="left:14px;top:697px;width:187px;height:16px;justify-content:flex-start;font-size:14.5px;color:#1a1a1a;letter-spacing:0.25px;-webkit-text-stroke:0.15px #1a1a1a;">Hispanic or Latino*</div>
<div class="t" style="left:201px;top:696px;width:85px;height:16px;justify-content:center;font-size:14.5px;color:#383838;">3.9%</div>
<div class="t" style="left:286px;top:696px;width:86px;height:16px;justify-content:center;font-size:14.5px;color:#383838;">4,262</div>
<div class="t" style="left:372px;top:696px;width:86px;height:16px;justify-content:center;font-size:14.5px;color:#383838;">8.5%</div>
<div class="t" style="left:458px;top:696px;width:85px;height:16px;justify-content:center;font-size:14.5px;color:#383838;">101</div>
<div class="t" style="left:543px;top:696px;width:86px;height:16px;justify-content:center;font-size:14.5px;color:#383838;">9.3%</div>
<div class="t" style="left:629px;top:696px;width:85px;height:16px;justify-content:center;font-size:14.5px;color:#383838;">32</div>
<div class="t" style="left:714px;top:696px;width:85px;height:16px;justify-content:center;font-size:14.5px;color:#383838;">2.7%</div>
<div class="t" style="left:14px;top:714px;width:187px;height:18px;justify-content:flex-start;font-size:14.5px;color:#1a1a1a;letter-spacing:0.1px;-webkit-text-stroke:0.15px #1a1a1a;">Black or African American**</div>
<div class="t" style="left:201px;top:711px;width:85px;height:18px;justify-content:center;font-size:14.5px;color:#383838;">1.4%</div>
<div class="t" style="left:286px;top:711px;width:86px;height:18px;justify-content:center;font-size:14.5px;color:#383838;">1,049</div>
<div class="t" style="left:372px;top:711px;width:86px;height:18px;justify-content:center;font-size:14.5px;color:#383838;">2.1%</div>
<div class="t" style="left:458px;top:711px;width:85px;height:18px;justify-content:center;font-size:14.5px;color:#383838;">38</div>
<div class="t" style="left:543px;top:711px;width:86px;height:18px;justify-content:center;font-size:14.5px;color:#383838;">3.5%</div>
<div class="t" style="left:629px;top:711px;width:85px;height:18px;justify-content:center;font-size:14.5px;color:#383838;">14</div>
<div class="t" style="left:714px;top:711px;width:85px;height:18px;justify-content:center;font-size:14.5px;color:#383838;">1.2%</div>
<div class="t" style="left:14px;top:731px;width:187px;height:17px;justify-content:flex-start;font-size:14.5px;color:#1a1a1a;letter-spacing:0.5px;-webkit-text-stroke:0.15px #1a1a1a;">Other***</div>
<div class="t" style="left:201px;top:730px;width:85px;height:17px;justify-content:center;font-size:14.5px;color:#383838;">1.8%</div>
<div class="t" style="left:286px;top:730px;width:86px;height:17px;justify-content:center;font-size:14.5px;color:#383838;">2,600</div>
<div class="t" style="left:372px;top:730px;width:86px;height:17px;justify-content:center;font-size:14.5px;color:#383838;">5.2%</div>
<div class="t" style="left:458px;top:730px;width:85px;height:17px;justify-content:center;font-size:14.5px;color:#383838;">26</div>
<div class="t" style="left:543px;top:730px;width:86px;height:17px;justify-content:center;font-size:14.5px;color:#383838;">2.4%</div>
<div class="t" style="left:629px;top:730px;width:85px;height:17px;justify-content:center;font-size:14.5px;color:#383838;">15</div>
<div class="t" style="left:714px;top:730px;width:85px;height:17px;justify-content:center;font-size:14.5px;color:#383838;">1.3%</div>
<div class="t" style="left:14px;top:748px;width:187px;height:17px;justify-content:flex-start;font-size:14.5px;color:#1a1a1a;letter-spacing:0.3px;-webkit-text-stroke:0.15px #1a1a1a;">Asian**</div>
<div class="t" style="left:201px;top:746px;width:85px;height:17px;justify-content:center;font-size:14.5px;color:#383838;">3.0%</div>
<div class="t" style="left:286px;top:746px;width:86px;height:17px;justify-content:center;font-size:14.5px;color:#383838;">1,066</div>
<div class="t" style="left:372px;top:746px;width:86px;height:17px;justify-content:center;font-size:14.5px;color:#383838;">2.1%</div>
<div class="t" style="left:458px;top:746px;width:85px;height:17px;justify-content:center;font-size:14.5px;color:#383838;">41</div>
<div class="t" style="left:543px;top:746px;width:86px;height:17px;justify-content:center;font-size:14.5px;color:#383838;">3.8%</div>
<div class="t" style="left:629px;top:746px;width:85px;height:17px;justify-content:center;font-size:14.5px;color:#383838;">12</div>
<div class="t" style="left:714px;top:746px;width:85px;height:17px;justify-content:center;font-size:14.5px;color:#383838;">1.0%</div>
<div class="t" style="left:14px;top:765px;width:187px;height:16px;justify-content:flex-start;font-size:14.5px;color:#1a1a1a;letter-spacing:0.2px;-webkit-text-stroke:0.15px #1a1a1a;">Grand Total</div>
<div class="t" style="left:286px;top:764px;width:86px;height:16px;justify-content:center;font-size:14.5px;color:#111;letter-spacing:0.25px;-webkit-text-stroke:0.2px #111;">50,267</div>
<div class="t" style="left:458px;top:764px;width:85px;height:16px;justify-content:center;font-size:14.5px;color:#111;letter-spacing:0.25px;-webkit-text-stroke:0.2px #111;">1,085</div>
<div class="t" style="left:629px;top:764px;width:85px;height:16px;justify-content:center;font-size:14.5px;color:#111;letter-spacing:0.25px;-webkit-text-stroke:0.2px #111;">1,196</div>
<div class="a" style="left:7px;top:679px;width:792px;height:1px;background:#c0c0c0;"></div>
<div class="a" style="left:7px;top:696px;width:792px;height:1px;background:#c0c0c0;"></div>
<div class="a" style="left:7px;top:712px;width:792px;height:1px;background:#c0c0c0;"></div>
<div class="a" style="left:7px;top:730px;width:792px;height:1px;background:#c0c0c0;"></div>
<div class="a" style="left:7px;top:747px;width:792px;height:1px;background:#c0c0c0;"></div>
<div class="a" style="left:7px;top:764px;width:792px;height:1px;background:#c0c0c0;"></div>
<div class="a" style="left:7px;top:780px;width:792px;height:1px;background:#c0c0c0;"></div>
<div class="a" style="left:201px;top:679px;width:1px;height:102px;background:#c0c0c0;"></div>
<div class="a" style="left:286px;top:679px;width:1px;height:102px;background:#c0c0c0;"></div>
<div class="a" style="left:372px;top:679px;width:1px;height:102px;background:#c0c0c0;"></div>
<div class="a" style="left:458px;top:679px;width:1px;height:102px;background:#c0c0c0;"></div>
<div class="a" style="left:543px;top:679px;width:1px;height:102px;background:#c0c0c0;"></div>
<div class="a" style="left:629px;top:679px;width:1px;height:102px;background:#c0c0c0;"></div>
<div class="a" style="left:714px;top:679px;width:1px;height:102px;background:#c0c0c0;"></div>
<div class="a" style="left:799px;top:679px;width:1px;height:102px;background:#c0c0c0;"></div>
<div class="a" style="left:201px;top:780px;width:600px;height:1px;background:repeating-linear-gradient(90deg,#222 0px 1px,transparent 1px 2px,#2b2bd6 2px 3px,transparent 3px 4px,#222 4px 5px,transparent 5px 6px,#d02bd0 6px 7px,transparent 7px 8px,#222 8px 9px,transparent 9px 10px,#2bb02b 10px 11px,transparent 11px 12px,#222 12px 13px,transparent 13px 14px,#d6c62b 14px 15px,transparent 15px 16px,#222 16px 17px,transparent 17px 18px,#d03030 18px 19px,transparent 19px 20px,#222 20px 21px,transparent 21px 22px,#2bc6d6 22px 23px,transparent 23px 24px);opacity:0.9"></div>
<div class="a" style="left:800px;top:680px;width:1px;height:100px;background:repeating-linear-gradient(180deg,#222 0px 1px,transparent 1px 3px,#2b2bd6 3px 4px,transparent 4px 6px,#222 6px 7px,transparent 7px 9px,#d02bd0 9px 10px,transparent 10px 12px,#222 12px 13px,transparent 13px 15px,#2bb02b 15px 16px,transparent 16px 18px,#222 18px 19px,transparent 19px 21px,#d6c62b 21px 22px,transparent 22px 24px,#222 24px 25px,transparent 25px 27px,#d03030 27px 28px,transparent 28px 30px,#222 30px 31px,transparent 31px 33px,#2bc6d6 33px 34px,transparent 34px 36px);opacity:0.6"></div>
<div class="t" style="left:11px;top:790px;width:780px;height:18px;justify-content:flex-start;font-size:14.2px;color:#444;letter-spacing:0.165px;">Race/Ethnicity is known for 63.6% of COVID-19 infections, 94.3% of hospitalizations, and 99.5% of deaths</div>
<div class="t" style="left:824px;top:144px;width:300px;height:20px;justify-content:flex-start;font-size:16px;color:#333;letter-spacing:-0.53px;">COVID-19 CASES BY SEX</div>
<div class="t" style="left:1186px;top:138px;width:90px;height:20px;justify-content:flex-start;font-size:15px;color:#111;letter-spacing:0.45px;">(n= 77908)</div>
<svg class="a" style="left:1308.0px;top:137.8px" width="23.0" height="23.0" viewBox="-11.5 -11.5 23.0 23.0"><circle cx="0" cy="0" r="9.05" fill="#fff" stroke="#444" stroke-width="0.8"/><g transform="scale(0.88)"><path transform="scale(0.94)" d="M-2.3,-1.7 C-2.1,-3.4 -0.7,-3.8 0.1,-3.8 C1.7,-3.8 2.4,-2.7 2.4,-1.8 C2.4,-0.4 1.1,0 0.3,0.7 C-0.2,1.1 -0.2,1.6 -0.2,2.3" fill="none" stroke="#333" stroke-width="1.5"/><circle cx="-0.2" cy="4" r="0.95" fill="#333"/></g></svg>
<svg class="a" style="left:0;top:0" width="1350" height="813"><circle cx="1079" cy="232.3" r="58.5" fill="#4e79a7"/><path d="M1079,232.3 L1079,173.8 A58.5,58.5 0 1 1 1074.59,290.63 Z" fill="#f28e2b"/></svg>
<div class="t" style="left:950px;top:188.5px;width:69px;height:20px;justify-content:flex-end;font-size:16px;color:#333;letter-spacing:0.8px;">37,998</div>
<div class="t" style="left:950px;top:210.5px;width:68px;height:20px;justify-content:flex-end;font-size:16px;color:#333;letter-spacing:0.8px;">48.8%</div>
<div class="t" style="left:1140.5px;top:238.5px;width:60px;height:20px;justify-content:flex-start;font-size:16px;color:#333;letter-spacing:0.8px;">39,910</div>
<div class="t" style="left:1143.5px;top:260.5px;width:60px;height:20px;justify-content:flex-start;font-size:16px;color:#333;letter-spacing:0.8px;">51.2%</div>
<div class="a" style="left:818px;top:292px;width:522px;height:1px;background:repeating-linear-gradient(90deg,#222 0px 1px,transparent 1px 3px,#2b2bd6 3px 4px,transparent 4px 6px,#222 6px 7px,transparent 7px 9px,#d02bd0 9px 10px,transparent 10px 12px,#222 12px 13px,transparent 13px 15px,#2bb02b 15px 16px,transparent 16px 18px,#222 18px 19px,transparent 19px 21px,#d6c62b 21px 22px,transparent 22px 24px,#222 24px 25px,transparent 25px 27px,#d03030 27px 28px,transparent 28px 30px,#222 30px 31px,transparent 31px 33px,#2bc6d6 33px 34px,transparent 34px 36px);opacity:0.75"></div>
<div class="t" style="left:821px;top:305px;width:80px;height:20px;justify-content:flex-start;font-size:15px;color:#2e5c8a;letter-spacing:0.5px;">Unknown</div>
<div class="t" style="left:935px;top:304px;width:80px;height:20px;justify-content:flex-start;font-size:15.5px;color:#333;">1,162</div>
<div class="a" style="left:930px;top:334px;width:414px;height:1px;background:repeating-linear-gradient(90deg,#1f7a1f 0 1px,transparent 1px 2px)"></div>
<div class="t" style="left:818px;top:342px;width:40px;height:20px;justify-content:flex-start;font-size:15px;color:#333;">Sex</div>
<div class="a" style="left:913px;top:343px;width:17px;height:17px;background:#f28e2b;"></div>
<div class="t" style="left:937px;top:343px;width:80px;height:20px;justify-content:flex-start;font-size:14.5px;color:#444;letter-spacing:0.4px;">Female</div>
<div class="a" style="left:1063px;top:343px;width:17px;height:17px;background:#4e79a7;"></div>
<div class="t" style="left:1086.5px;top:343px;width:80px;height:20px;justify-content:flex-start;font-size:14.5px;color:#444;letter-spacing:0.7px;">Male</div>
<div class="t" style="left:819px;top:394px;width:300px;height:20px;justify-content:flex-start;font-size:16px;color:#000;letter-spacing:-0.5px;">COVID-19 CASES BY AGE GROUP</div>
<div class="t" style="left:1188px;top:391px;width:90px;height:20px;justify-content:flex-start;font-size:15px;color:#111;letter-spacing:0.45px;">(n= 78994)</div>
<svg class="a" style="left:1308.0px;top:390.8px" width="23.0" height="23.0" viewBox="-11.5 -11.5 23.0 23.0"><circle cx="0" cy="0" r="9.05" fill="#fff" stroke="#444" stroke-width="0.8"/><g transform="scale(0.88)"><path transform="scale(0.94)" d="M-2.3,-1.7 C-2.1,-3.4 -0.7,-3.8 0.1,-3.8 C1.7,-3.8 2.4,-2.7 2.4,-1.8 C2.4,-0.4 1.1,0 0.3,0.7 C-0.2,1.1 -0.2,1.6 -0.2,2.3" fill="none" stroke="#333" stroke-width="1.5"/><circle cx="-0.2" cy="4" r="0.95" fill="#333"/></g></svg>
<div class="a" style="left:1296px;top:388px;width:1px;height:32px;background:repeating-linear-gradient(180deg,#111 0 3px,transparent 3px 4px,#223 4px 5px,transparent 5px 6px)"></div>
<div class="t" style="left:978.7px;top:427px;width:200px;height:20px;justify-content:center;font-size:15px;color:#333;letter-spacing:0.16px;">Age Group (in years)</div>
<svg class="a" style="left:0;top:0" width="1350" height="813"><rect x="913" y="613" width="29" height="49" fill="#4e79a7"/><rect x="951" y="545" width="28" height="117" fill="#4e79a7"/><rect x="989" y="459" width="29" height="203" fill="#4e79a7"/><rect x="1027" y="513" width="29" height="149" fill="#4e79a7"/><rect x="1066" y="527" width="28" height="135" fill="#4e79a7"/><rect x="1103" y="500" width="29" height="162" fill="#4e79a7"/><rect x="1141" y="554" width="28" height="108" fill="#4e79a7"/><rect x="1179" y="607" width="29" height="55" fill="#4e79a7"/><rect x="1217" y="613" width="29" height="49" fill="#4e79a7"/><polyline fill="none" stroke="#f28e2b" stroke-width="4" stroke-linejoin="round" stroke-linecap="round" points="927.5,598 965,536.9 1003.7,461.5 1041.6,503.4 1079.9,519.7 1117.8,528.7 1155.7,560.5 1194,570.3 1231.9,515.3"/><line x1="905" x2="1255" y1="661.5" y2="661.5" stroke="#c8c8c8" stroke-width="1" stroke-dasharray="2,2"/><line x1="901" x2="908" y1="467.5" y2="467.5" stroke="#dedede" stroke-width="1"/><line x1="901" x2="908" y1="531.5" y2="531.5" stroke="#dedede" stroke-width="1"/><line x1="901" x2="908" y1="596" y2="596" stroke="#dedede" stroke-width="1"/></svg>
<div class="t" style="left:860px;top:458px;width:39px;height:20px;justify-content:flex-end;font-size:13.5px;color:#333;">15K</div>
<div class="t" style="left:860px;top:521px;width:39px;height:20px;justify-content:flex-end;font-size:13.5px;color:#333;">10K</div>
<div class="t" style="left:860px;top:586px;width:39px;height:20px;justify-content:flex-end;font-size:13.5px;color:#333;">5K</div>
<div class="t" style="left:860px;top:641px;width:39px;height:20px;justify-content:flex-end;font-size:13.5px;color:#333;">0K</div>
<div class="t" style="left:1260px;top:629.1400000000001px;width:30px;height:20px;justify-content:flex-start;font-size:13.5px;color:#333;">1K</div>
<div class="t" style="left:1260px;top:606.58px;width:30px;height:20px;justify-content:flex-start;font-size:13.5px;color:#333;">2K</div>
<div class="t" style="left:1260px;top:584.0200000000001px;width:30px;height:20px;justify-content:flex-start;font-size:13.5px;color:#333;">3K</div>
<div class="t" style="left:1260px;top:561.46px;width:30px;height:20px;justify-content:flex-start;font-size:13.5px;color:#333;">4K</div>
<div class="t" style="left:1260px;top:538.9000000000001px;width:30px;height:20px;justify-content:flex-start;font-size:13.5px;color:#333;">5K</div>
<div class="t" style="left:1260px;top:516.34px;width:30px;height:20px;justify-content:flex-start;font-size:13.5px;color:#333;">6K</div>
<div class="t" style="left:1260px;top:493.7800000000001px;width:30px;height:20px;justify-content:flex-start;font-size:13.5px;color:#333;">7K</div>
<div class="t" style="left:1260px;top:471.22px;width:30px;height:20px;justify-content:flex-start;font-size:13.5px;color:#333;">8K</div>
<div class="t" style="left:1260px;top:448.6600000000001px;width:30px;height:20px;justify-content:flex-start;font-size:13.5px;color:#333;">9K</div>
<div class="a" style="left:1251px;top:450px;width:1px;height:68px;background:repeating-linear-gradient(180deg,#222 0px 1px,transparent 1px 2px,#2b2bd6 2px 3px,transparent 3px 4px,#222 4px 5px,transparent 5px 6px,#d02bd0 6px 7px,transparent 7px 8px,#222 8px 9px,transparent 9px 10px,#2bb02b 10px 11px,transparent 11px 12px,#222 12px 13px,transparent 13px 14px,#d6c62b 14px 15px,transparent 15px 16px,#222 16px 17px,transparent 17px 18px,#d03030 18px 19px,transparent 19px 20px,#222 20px 21px,transparent 21px 22px,#2bc6d6 22px 23px,transparent 23px 24px);opacity:0.8"></div>
<div class="a" style="left:1251px;top:524px;width:1px;height:132px;background:repeating-linear-gradient(180deg,#222 0px 1px,transparent 1px 3px,#2b2bd6 3px 4px,transparent 4px 6px,#222 6px 7px,transparent 7px 9px,#d02bd0 9px 10px,transparent 10px 12px,#222 12px 13px,transparent 13px 15px,#2bb02b 15px 16px,transparent 16px 18px,#222 18px 19px,transparent 19px 21px,#d6c62b 21px 22px,transparent 22px 24px,#222 24px 25px,transparent 25px 27px,#d03030 27px 28px,transparent 28px 30px,#222 30px 31px,transparent 31px 33px,#2bc6d6 33px 34px,transparent 34px 36px);opacity:0.55"></div>
<div class="t" style="left:738px;top:543px;width:200px;height:20px;justify-content:center;font-size:14px;color:#333;transform:rotate(-90deg)">Number of Cases</div>
<div class="t" style="left:1220px;top:543px;width:200px;height:20px;justify-content:center;font-size:14px;letter-spacing:0.15px;color:#333;transform:rotate(-90deg)">Rate per 100,000 Persons</div>
<div class="t" style="left:886.9px;top:698.7px;width:80px;height:20px;justify-content:flex-end;font-size:14px;letter-spacing:0.7px;word-spacing:-2.95px;color:#333;transform:rotate(-90deg);transform-origin:50% 50%;" >0 - 9</div>
<div class="t" style="left:924.9px;top:698.7px;width:80px;height:20px;justify-content:flex-end;font-size:14px;letter-spacing:0.7px;word-spacing:-2.95px;color:#333;transform:rotate(-90deg);transform-origin:50% 50%;" >10 - 19</div>
<div class="t" style="left:962.9px;top:698.7px;width:80px;height:20px;justify-content:flex-end;font-size:14px;letter-spacing:0.7px;word-spacing:-2.95px;color:#333;transform:rotate(-90deg);transform-origin:50% 50%;" >20 - 29</div>
<div class="t" style="left:1000.9000000000001px;top:698.7px;width:80px;height:20px;justify-content:flex-end;font-size:14px;letter-spacing:0.7px;word-spacing:-2.95px;color:#333;transform:rotate(-90deg);transform-origin:50% 50%;" >30 - 39</div>
<div class="t" style="left:1038.9px;top:698.7px;width:80px;height:20px;justify-content:flex-end;font-size:14px;letter-spacing:0.7px;word-spacing:-2.95px;color:#333;transform:rotate(-90deg);transform-origin:50% 50%;" >40 - 49</div>
<div class="t" style="left:1076.9px;top:698.7px;width:80px;height:20px;justify-content:flex-end;font-size:14px;letter-spacing:0.7px;word-spacing:-2.95px;color:#333;transform:rotate(-90deg);transform-origin:50% 50%;" >50 - 59</div>
<div class="t" style="left:1114.9px;top:698.7px;width:80px;height:20px;justify-content:flex-end;font-size:14px;letter-spacing:0.7px;word-spacing:-2.95px;color:#333;transform:rotate(-90deg);transform-origin:50% 50%;" >60 - 69</div>
<div class="t" style="left:1152.9px;top:698.7px;width:80px;height:20px;justify-content:flex-end;font-size:14px;letter-spacing:0.7px;word-spacing:-2.95px;color:#333;transform:rotate(-90deg);transform-origin:50% 50%;" >70 - 79</div>
<div class="t" style="left:1190.9px;top:698.7px;width:80px;height:20px;justify-content:flex-end;font-size:14px;letter-spacing:0.7px;word-spacing:-2.95px;color:#333;transform:rotate(-90deg);transform-origin:50% 50%;" >80 +</div>
<div class="t" style="left:826px;top:727px;width:80px;height:20px;justify-content:flex-start;font-size:15px;color:#2e5c8a;letter-spacing:0.55px;">Unknown</div>
<div class="t" style="left:914px;top:727px;width:40px;height:20px;justify-content:flex-start;font-size:15.5px;color:#333;">76</div>
<div class="a" style="left:823px;top:760px;width:17px;height:15px;background:#4e79a7;"></div>
<div class="t" style="left:846px;top:759px;width:200px;height:20px;justify-content:flex-start;font-size:14px;color:#333;letter-spacing:0.36px;">Cumulative Infections</div>
<div class="a" style="left:1048px;top:760px;width:17px;height:15px;background:#f28e2b;"></div>
<div class="t" style="left:1071px;top:759px;width:200px;height:20px;justify-content:flex-start;font-size:14px;color:#333;letter-spacing:0.17px;">Rate per 100,000 Persons</div>
<div class="t" style="left:1137.5px;top:781px;width:200px;height:20px;justify-content:flex-end;font-size:14px;color:#888;letter-spacing:0.24px;">Data as of:&nbsp; 3/16/2021</div>
</body></html>
